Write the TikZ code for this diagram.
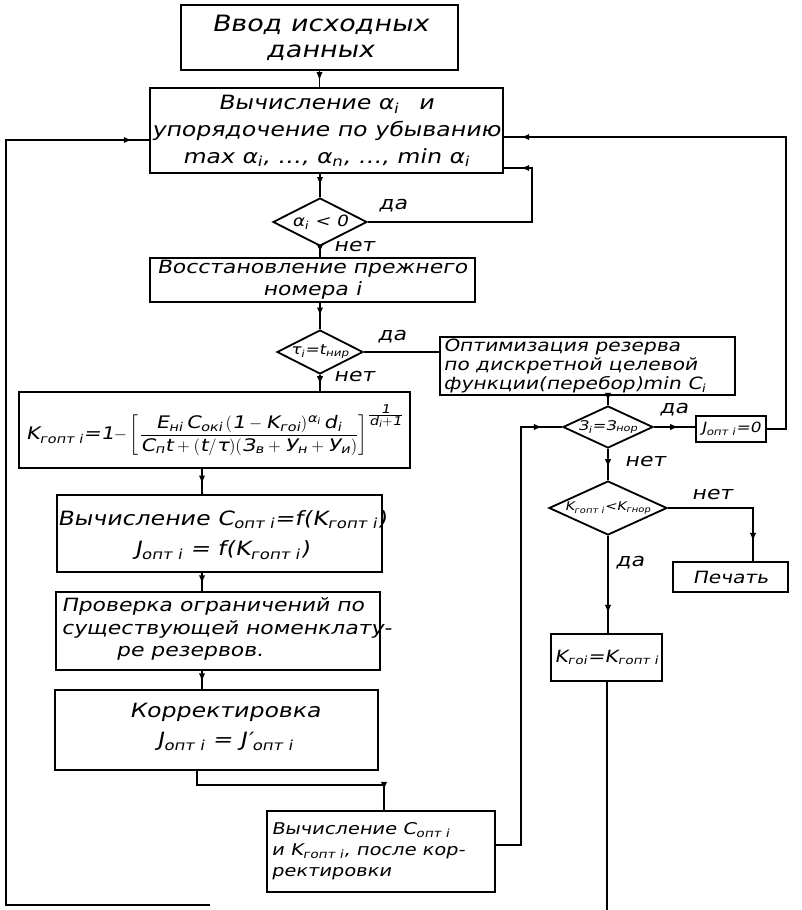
\documentclass[tikz,border=0pt]{standalone}
\usepackage{amsmath}
\usepackage{fontspec}
\setmainfont{DejaVu Sans}[FakeSlant=0.2,FakeStretch=1.2]
\usetikzlibrary{shapes.geometric,arrows.meta,decorations.markings}
\newcommand\myfs[2]{\fontsize{#1}{#2}\selectfont}
\newcommand\sbs[1]{\textsubscript{#1}}
\newcommand\rbox[5]{\node[bx,minimum width={(#4-(#2))*0.025cm},minimum height={(#5-(#3))*0.025cm}] (#1) at ({(#2+#4)/2},{(#3+#5)/2}) {};}
\newcommand\dbox[5]{\node[dm,minimum width={#4*0.025cm},minimum height={#5*0.025cm}] (#1) at (#2,#3) {};}
\begin{document}
\begin{tikzpicture}[x=0.025cm,y=-0.025cm,
 ln/.style={line width=1.3pt},
 bx/.style={draw,line width=1.3pt,inner sep=0pt},
 dm/.style={draw,line width=1.3pt,diamond,inner sep=0pt},
 tx/.style={inner sep=0pt,align=center},
 lb/.style={inner sep=0pt,font=\myfs{13}{15}},
 am/.style={decoration={markings,mark=at position #1 with {\arrow{Latex[length=6pt,width=4.5pt]}}},postaction={decorate}}]
\useasboundingbox (0,0) rectangle (802,910);

% boxes
\rbox{b1}{181}{5}{458}{70}
\node[tx,font=\myfs{16}{18}] (t1) at (320,38) {Ввод исходных\\данных};

\rbox{b2}{150}{88}{503}{173}
\node[tx,font=\myfs{14}{19}] (t2) at (326,131) {Вычисление α\sbs{i}\quad и\\упорядочение по убыванию\\max α\sbs{i}, …, α\sbs{n}, …, min α\sbs{i}};

\dbox{d1}{320}{222}{94}{48}
\node[tx,font=\myfs{11}{13}] (td1) at (d1) {α\sbs{i} < 0};

\rbox{b3}{150}{258}{475}{302}
\node[tx,font=\myfs{13}{15.5}] (t3) at (312,280) {Восстановление прежнего\\номера i};

\dbox{d2}{320}{352}{86}{44}
\node[tx,font=\myfs{10}{12}] (td2) at (d2) {τ\sbs{i}=t\sbs{нир}};

\rbox{bo}{440}{337}{735}{395}
\node[tx,align=left,anchor=west,font=\myfs{12}{13.5}] (to) at (443,366) {Оптимизация резерва\\по дискретной целевой\\функции(перебор)min C\sbs{i}};

\rbox{bf}{19}{392}{410}{468}
\node[tx,font=\myfs{12.3}{14}] (tf) at (215,430) {K\sbs{гопт i}=1$-\left[\dfrac{\text{E}_{\text{нi}}\,\text{C}_{\text{окi}}\,(\text{1}-\text{K}_{\text{гоi}})^{\text{α}_{\text{i}}}\,\text{d}_{\text{i}}}{\text{C}_{\text{п}}\text{t}+(\text{t}/\text{τ})(\text{З}_{\text{в}}+\text{У}_{\text{н}}+\text{У}_{\text{и}})}\right]^{\textstyle\frac{\text{1}}{\text{d}_{\text{i}}+\text{1}}}$};

\rbox{bc}{57}{495}{382}{572}
\node[tx,font=\myfs{14}{22}] (tc) at (222,535) {Вычисление C\sbs{опт i}=f(K\sbs{гопт i})\\J\sbs{опт i} = f(K\sbs{гопт i})};

\rbox{bp}{56}{592}{380}{670}
\node[tx,align=left,anchor=west,font=\myfs{13}{16}] (tp) at (61,629) {Проверка ограничений по\\существующей номенклату-\\\hspace*{3em}ре резервов.};

\rbox{bk}{55}{690}{378}{770}
\node[tx,font=\myfs{14}{21}] (tk) at (225,727) {Корректировка\\J\sbs{опт i} = J′\sbs{опт i}};

\rbox{bb}{267}{811}{495}{892}
\node[tx,align=left,anchor=west,font=\myfs{11.5}{15}] (tb) at (271,851) {Вычисление C\sbs{опт i}\\и K\sbs{гопт i}, после кор-\\ректировки};

\dbox{d3}{608}{427}{90}{42}
\node[tx,font=\myfs{9.5}{11}] (td3) at (d3) {З\sbs{i}=З\sbs{нор}};

\rbox{bj}{696}{416}{766}{442}
\node[tx,font=\myfs{10}{12}] (tj) at (bj) {J\sbs{опт i}=0};

\dbox{d4}{608}{508}{118}{54}
\node[tx,font=\myfs{8.5}{10}] (td4) at (d4) {K\sbs{гопт i}<K\sbs{гнор}};

\rbox{bpr}{673}{562}{788}{592}
\node[tx,font=\myfs{12}{14}] (tpr) at (bpr) {Печать};

\rbox{bg}{551}{634}{662}{681}
\node[tx,font=\myfs{12}{14}] (tg) at (bg) {K\sbs{гoi}=K\sbs{гопт i}};

% labels
\node[lb] (y1) at (393,206) {да};
\node[lb] (n1) at (354,247) {нет};
\node[lb] (y2) at (392,337) {да};
\node[lb] (n2) at (354,377) {нет};
\node[lb] (y3) at (674,410) {да};
\node[lb] (n3) at (645,462) {нет};
\node[lb] (n4) at (712,495) {нет};
\node[lb] (y4) at (630,563) {да};

% coordinates
\coordinate (r1) at (786,137);
\coordinate (l1) at (532,168);
\coordinate (bl) at (210,905);
\coordinate (ll) at (6,140);
\coordinate (cx) at (202,0);
\coordinate (k1) at (197,785);
\coordinate (k2) at (384,785);
\coordinate (m1) at (521,845);
\coordinate (p1) at (753,0);
\coordinate (gx) at (607,0);
\coordinate (bt) at (0,910);

% connectors
\draw[ln,am=0.6] (b1.south) -- (b1.south |- b2.north);
\draw[ln,am=0.5] (b2.south -| d1.north) -- (d1.north);
\draw[ln,am=0.6] (d1.south) -- (d1.south |- b3.north);
\draw[ln,am=0.5] (b3.south -| d2.north) -- (d2.north);
\draw[ln,am=0.6] (d2.south) -- (d2.south |- bf.north);
\draw[ln] (d2.east) -- (d2.east -| bo.west);
\draw[ln,am=0.6] (bo.south -| d3.north) -- (d3.north);
\draw[ln,am=0.6] (d3.east) -- (d3.east -| bj.west);
\draw[ln,am=-12pt] (bj.east) -| (r1) -- (r1 -| b2.east);
\draw[ln,am=-12pt] (d1.east) -| (l1) -- (l1 -| b2.east);
\draw[ln,am=-12pt] (bl) -| (ll) -- (ll -| b2.west);
\draw[ln,am=0.6] (cx |- bf.south) -- (cx |- bc.north);
\draw[ln,am=0.6] (cx |- bc.south) -- (cx |- bp.north);
\draw[ln,am=0.6] (cx |- bp.south) -- (cx |- bk.north);
\draw[ln,am=-14pt] (k1 |- bk.south) -- (k1) -- (k2) -- (k2 |- bb.north);
\draw[ln,am=-14pt] (bb.east |- m1) -- (m1) |- (d3.west);
\draw[ln,am=0.6] (d3.south) -- (d3.south |- d4.north);
\draw[ln,am=-14pt] (d4.east) -| (p1 |- bpr.north);
\draw[ln,am=-14pt] (d4.south) -- (d4.south |- bg.north);
\draw[ln] (gx |- bg.south) -- (gx |- bt);
\end{tikzpicture}
\end{document}
